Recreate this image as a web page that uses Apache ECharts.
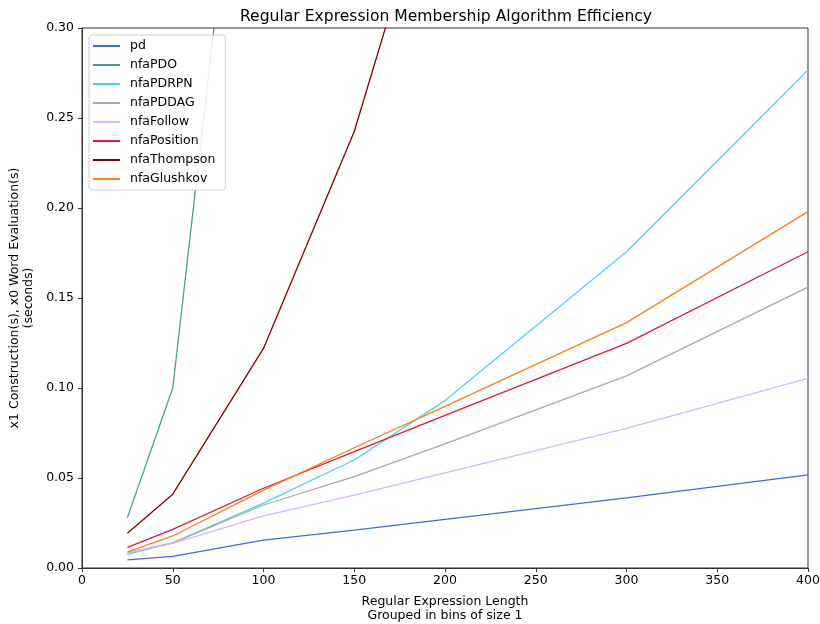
<!DOCTYPE html>
<html>
<head>
<meta charset="utf-8">
<script src="https://cdn.jsdelivr.net/npm/echarts@6/dist/echarts.min.js"></script>
<style>html,body{margin:0;padding:0;background:#fff;overflow:hidden}#c{width:820px;height:624px}</style>
</head>
<body>
<div id="c"></div>
<script>
var lengths = [25, 50, 100, 150, 200, 300, 400];
var pd = [0.0045, 0.0065, 0.0155, 0.021, 0.027, 0.039, 0.0517];
var nfaPDO = [0.028, 0.100, 0.54, null, null, null, null];
var nfaPDRPN = [0.0076, 0.014, 0.036, 0.060, 0.0930, 0.1757, 0.2767];
var nfaPDDAG = [0.0085, 0.014, 0.035, 0.0508, 0.0690, 0.1067, 0.156];
var nfaFollow = [0.0085, 0.0137, 0.029, 0.0405, 0.0528, 0.0776, 0.1054];
var nfaPosition = [0.0115, 0.0215, 0.0443, 0.0646, 0.0848, 0.1248, 0.1757];
var nfaThompson = [0.0193, 0.041, 0.122, 0.2425, 0.41, null, null];
var nfaGlushkov = [0.009, 0.0178, 0.0433, 0.0668, 0.0898, 0.1363, 0.198];
var yTicks = ['0.00', '0.05', '0.10', '0.15', '0.20', '0.25', '0.30'];
var xTicks = ['0', '50', '100', '150', '200', '250', '300', '350', '400'];

var names = ['pd', 'nfaPDO', 'nfaPDRPN', 'nfaPDDAG', 'nfaFollow', 'nfaPosition', 'nfaThompson', 'nfaGlushkov'];
var values = [pd, nfaPDO, nfaPDRPN, nfaPDDAG, nfaFollow, nfaPosition, nfaThompson, nfaGlushkov];
var colors = ['#4169E1', '#44A096', '#4DD2F0', '#A9A9A9', '#D8B4FA', '#E3173F', '#800000', '#FF7F0E'];

var FONT = 'DejaVu Sans';
var series = names.map(function (n, i) {
  return {
    name: n,
    type: 'line',
    showSymbol: false,
    symbol: 'none',
    clip: true,
    connectNulls: false,
    color: colors[i],
    lineStyle: { width: 1.3, color: colors[i] },
    data: lengths.map(function (x, j) { return [x, values[i][j]]; }),
    animation: false
  };
});

var chart = echarts.init(document.getElementById('c'), null, { renderer: 'canvas' });
chart.setOption({
  animation: false,
  backgroundColor: '#fff',
  textStyle: { fontFamily: FONT },
  title: {
    text: 'Regular Expression Membership Algorithm Efficiency',
    left: 441, top: 4, textAlign: 'center',
    textStyle: { fontFamily: FONT, fontSize: 15.6, fontWeight: 'normal', color: '#000' }
  },
  grid: {
    left: 82, right: 12, top: 28, bottom: 56,
    outerBoundsMode: 'none',
    show: true, borderColor: '#333', borderWidth: 1, backgroundColor: 'transparent',
    containLabel: false
  },
  legend: {
    orient: 'vertical', left: 89, top: 35,
    padding: [4, 10, 4, 4],
    icon: 'rect', itemWidth: 27, itemHeight: 2, itemGap: 5,
    backgroundColor: 'rgba(255,255,255,0.85)',
    borderColor: '#d0d0d0', borderWidth: 1, borderRadius: 3,
    textStyle: { fontFamily: FONT, fontSize: 12.5, color: '#000', lineHeight: 14, padding: [0, 0, 0, 5] },
    data: names
  },
  xAxis: {
    type: 'value', min: 0, max: 400, interval: 50,
    name: 'Regular Expression Length\nGrouped in bins of size 1',
    nameLocation: 'middle', nameGap: 26,
    nameTextStyle: { fontFamily: FONT, fontSize: 12.5, color: '#000', lineHeight: 14.5 },
    axisLine: { show: true, onZero: false, lineStyle: { color: '#333', width: 1 } },
    axisTick: { show: true, inside: false, length: 4, lineStyle: { color: '#333' } },
    axisLabel: { fontFamily: FONT, fontSize: 12.5, color: '#000', margin: 6,
      formatter: function (v) { return xTicks[Math.round(v / 50)]; } },
    splitLine: { show: false }
  },
  yAxis: {
    type: 'value', min: 0, max: 0.3, interval: 0.05,
    name: 'x1 Construction(s), x0 Word Evaluation(s)\n(seconds)',
    nameLocation: 'middle', nameGap: 37, nameRotate: 90,
    nameTextStyle: { fontFamily: FONT, fontSize: 12.5, color: '#000', lineHeight: 14 },
    axisLine: { show: true, lineStyle: { color: '#333', width: 1 } },
    axisTick: { show: true, inside: false, length: 4, lineStyle: { color: '#333' } },
    axisLabel: { fontFamily: FONT, fontSize: 12.5, color: '#000', margin: 8,
      formatter: function (v) { return yTicks[Math.round(v / 0.05)]; } },
    splitLine: { show: false }
  },
  series: series
});
</script>
</body>
</html>
